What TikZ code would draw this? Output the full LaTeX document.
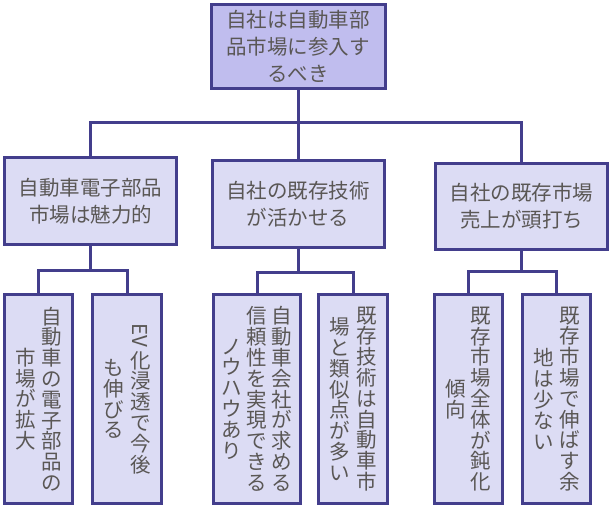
\documentclass[tikz,border=0pt]{standalone}
\usepackage{fontspec}
\setmainfont{Noto Sans CJK JP}
\usepackage{graphicx}
\definecolor{edge}{HTML}{433E8C}
\definecolor{rootfill}{HTML}{C0BDEE}
\definecolor{boxfill}{HTML}{DCDCF4}
\definecolor{txt}{HTML}{5A5755}
\def\VCend{VCEND}
\def\VCloop#1{\ifx#1\VCend\else\hbox to 20.5pt{\hss#1\hss}\expandafter\VCloop\fi}
\newcommand\VC[1]{$\vcenter{\baselineskip=20.8pt\lineskiplimit=-50pt\lineskip=0pt\VCloop#1\VCend}$}
\def\EV{\vbox to 23pt{\vss\hbox{\rotatebox[origin=c]{-90}{EV}}\vss}}
\tikzset{
  rootbox/.style={draw=edge, line width=3pt, fill=rootfill, minimum width=174pt, minimum height=84pt, align=center, inner sep=0pt, text=txt},
  midbox/.style={draw=edge, line width=3pt, fill=boxfill, minimum width=172pt, minimum height=87pt, align=center, inner sep=0pt, text=txt},
  leafbox/.style={draw=edge, line width=3pt, fill=boxfill, minimum height=209pt, inner sep=0pt, text=txt},
  link/.style={draw=edge, line width=3pt}
}
\begin{document}
\begin{tikzpicture}[x=1pt,y=-1pt,font=\fontsize{20.5}{27}\selectfont]
\useasboundingbox (0,0) rectangle (610,507);
% nodes
\node[rootbox] (root) at (298,46.5) {自社は自動車部\\品市場に参入す\\るべき};
\node[midbox] (b1) at (90.5,201) {自動車電子部品\\市場は魅力的};
\node[midbox] (b2) at (298,204) {自社の既存技術\\が活かせる};
\node[midbox, minimum height=86pt] (b3) at (521.5,206.5) {自社の既存市場\\売上が頭打ち};
\node[leafbox, minimum width=68pt] (c1) at (38.5,399) {\VC{市場が拡大}\hspace{6pt}\VC{自動車の電子部品の}};
\node[leafbox, minimum width=69pt] (c2) at (127,399) {\VC{も伸びる}\hspace{6pt}\VC{\EV 化浸透で今後}};
\node[leafbox, minimum width=87pt] (c3) at (257,399) {\VC{ノウハウあり}\hspace{4.5pt}\VC{信頼性を実現できる}\hspace{4.5pt}\VC{自動車会社が求める}};
\node[leafbox, minimum width=69pt] (c4) at (353,399) {\VC{場と類似点が多い}\hspace{6pt}\VC{既存技術は自動車市}};
\node[leafbox, minimum width=68pt] (c5) at (468.5,399) {\VC{傾向}\hspace{4.5pt}\VC{既存市場全体が鈍化}};
\node[leafbox, minimum width=68pt] (c6) at (556.5,399) {\VC{地は少ない}\hspace{5pt}\VC{既存市場で伸ばす余}};
% bus points
\coordinate (bus0) at (298,122);
\coordinate (k1) at (90.5,270);
\coordinate (k2) at (298,272);
\coordinate (k3) at (521.5,271);
% connectors
\draw[link] (root.south) -- (bus0);
\draw[link] (b1.north) |- (bus0) -| (b3.north);
\draw[link] (bus0) -- (b2.north);
\draw[link] (b1.south) -- (k1);
\draw[link] (c1.north) |- (k1) -| (c2.north);
\draw[link] (b2.south) -- (k2);
\draw[link] (c3.north) |- (k2) -| (c4.north);
\draw[link] (b3.south) -- (k3);
\draw[link] (c5.north) |- (k3) -| (c6.north);
\end{tikzpicture}
\end{document}
